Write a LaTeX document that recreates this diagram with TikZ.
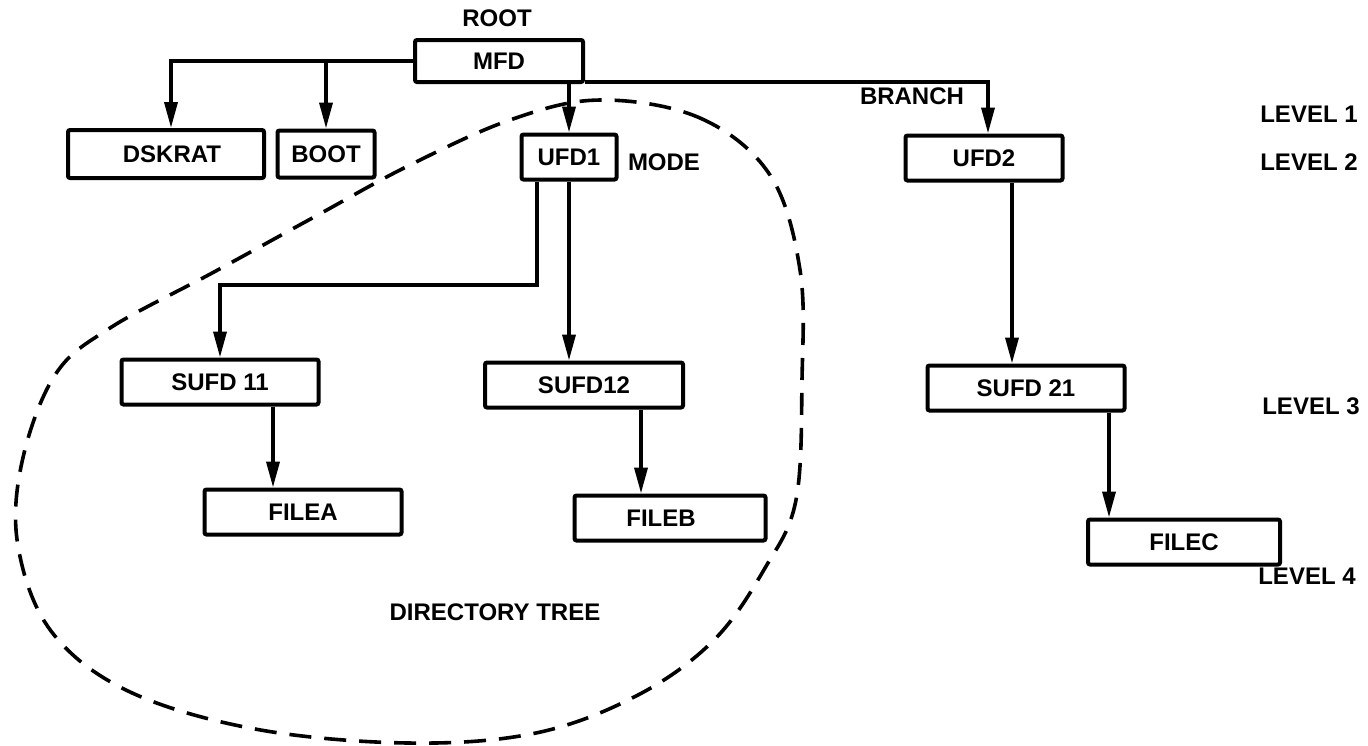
\documentclass[tikz,border=0pt]{standalone}
\usepackage{fontspec}
\setmainfont{Liberation Sans}
\usetikzlibrary{arrows.meta}
\tikzset{
  box/.style={draw, line width=4pt, rounded corners=2pt, inner sep=0pt, minimum height=45pt},
  lbl/.style={inner sep=0pt},
  arr/.style={line width=3.6pt, -{Triangle[length=26pt,width=13pt]}},
  dsh/.style={line width=3.6pt, dash pattern=on 22pt off 13pt},
}
\begin{document}
\begin{tikzpicture}[x=1pt,y=-1pt, font=\bfseries\fontsize{24}{28}\selectfont]
\useasboundingbox (0,0) rectangle (1368,745);
% boxes
\node[box, minimum width=168pt, minimum height=42pt] (mfd) at (499,61) {MFD};
\node[box, minimum width=196pt, minimum height=48pt] (dskrat) at (166,154) {\hspace*{12pt}DSKRAT};
\node[box, minimum width=97pt, minimum height=47pt] (boot) at (326,154) {BOOT};
\node[box, minimum width=95pt] (ufd1) at (569,157) {UFD1};
\node[box, minimum width=157pt] (ufd2) at (984,158) {UFD2};
\node[box, minimum width=197pt] (sufd11) at (220,382) {SUFD 11};
\node[box, minimum width=198pt] (sufd12) at (584,385) {SUFD12};
\node[box, minimum width=197pt] (sufd21) at (1026,388) {SUFD 21};
\node[box, minimum width=197pt] (filea) at (303,512) {FILEA};
\node[box, minimum width=191pt] (fileb) at (670,518) {\hspace*{-18pt}FILEB};
\node[box, minimum width=192pt] (filec) at (1184,542) {FILEC};
% labels
\node[lbl] (root) at (497,18) {ROOT};
\node[lbl] (mode) at (664,162) {MODE};
\node[lbl] (branch) at (912,96) {BRANCH};
\node[lbl] (lev1) at (1309,114) {LEVEL 1};
\node[lbl] (lev2) at (1309,162) {LEVEL 2};
\node[lbl] (lev3) at (1311,406) {LEVEL 3};
\node[lbl] (lev4) at (1307,576) {LEVEL 4};
\node[lbl] (dtree) at (495,612) {DIRECTORY TREE};
% connectors
\draw[arr] (mfd.west) -| ([xshift=5pt]dskrat.north);
\draw[arr] (mfd.west -| boot.north) -- (boot.north);
\draw[arr] (mfd.south -| ufd1.north) -- (ufd1.north);
\draw[arr] ([yshift=2pt]mfd.south east) -| ([xshift=4pt]ufd2.north);
\coordinate (bend) at (537,285);
\draw[arr] (ufd1.south -| bend) -- (bend) -| (sufd11.north);
\draw[arr] (ufd1.south) -- (ufd1.south |- sufd12.north);
\draw[arr] ([xshift=53pt]sufd11.south) -- ([xshift=53pt]sufd11.south |- filea.north);
\draw[arr] ([xshift=57pt]sufd12.south) -- ([xshift=57pt]sufd12.south |- fileb.north);
\draw[arr] ([xshift=28pt]ufd2.south) -- ([xshift=28pt]ufd2.south |- sufd21.north);
\draw[arr] ([xshift=83pt]sufd21.south) -- ([xshift=83pt]sufd21.south |- filec.north);
% dashed directory tree outline
\draw[dsh] plot[smooth cycle, tension=0.6] coordinates {
 (600,100) (700,118) (770,175) (800,270) (802,380) (796,500) (765,568) (714,640)
 (638,695) (536,733) (408,743) (255,729) (128,691) (51,631) (18,546)
 (22,462) (55,375) (110,328) (214,272) (316,216) (408,166) (510,120)};
\end{tikzpicture}
\end{document}
